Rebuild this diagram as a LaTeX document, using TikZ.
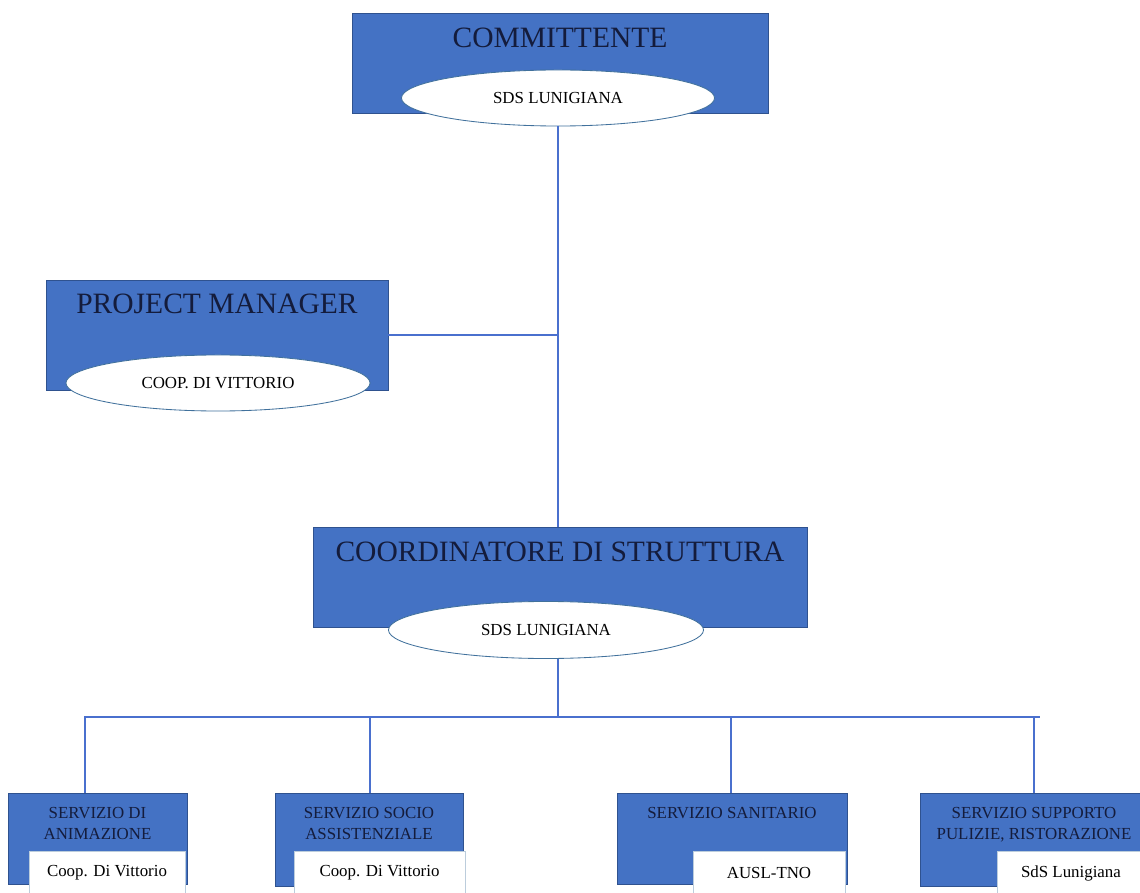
\documentclass[tikz,border=0pt]{standalone}
\usepackage{fontspec}
\setmainfont{Liberation Serif}
\usetikzlibrary{positioning, shapes.geometric}
\definecolor{boxblue}{RGB}{68,114,196}
\definecolor{boxedge}{RGB}{47,82,143}
\definecolor{navy}{RGB}{20,28,60}
\definecolor{ovaledge}{RGB}{65,113,156}
\definecolor{linkblue}{RGB}{74,112,206}

\begin{document}
\begin{tikzpicture}[x=0.025cm, y=-0.025cm,
    blue box/.style={rectangle, draw=boxedge, line width=0.6pt, fill=boxblue},
    head/.style={font=\fontsize{21}{24}\selectfont, text=navy, inner sep=0pt},
    sub head/.style={font=\fontsize{12}{15}\selectfont, text=navy, align=center, inner sep=0pt},
    oval/.style={ellipse, draw=ovaledge, line width=0.6pt, fill=white, inner sep=0pt,
        minimum height=1.4cm, font=\fontsize{12}{14}\selectfont},
    white box/.style={rectangle, draw=ovaledge!35, line width=0.4pt, fill=white,
        minimum height=1.1cm, font=\fontsize{12}{14}\selectfont},
    link/.style={draw=linkblue, line width=1.7pt}]

    \useasboundingbox (0,0) rectangle (1140,893);

    \node[blue box, minimum width=10.4cm, minimum height=2.5cm] (comm) at (560,63) {};
    \node[head, below=0.37cm of comm.north] (comm title) {COMMITTENTE};
    \node[oval, minimum width=7.825cm] (comm sds) at (558,98) {SDS LUNIGIANA};

    \node[blue box, minimum width=8.55cm, minimum height=2.75cm] (pm) at (217,335) {};
    \node[head, below=0.35cm of pm.north] (pm title) {PROJECT MANAGER};
    \node[oval, minimum width=7.6cm] (pm coop) at (218,383) {COOP. DI VITTORIO};

    \node[blue box, minimum width=12.35cm, minimum height=2.5cm] (coord) at (560,577) {};
    \node[head, below=0.37cm of coord.north] (coord title) {COORDINATORE DI STRUTTURA};
    \node[oval, minimum width=7.875cm, minimum height=1.425cm] (coord sds) at (546,630) {SDS LUNIGIANA};

    \node[blue box, minimum width=4.475cm, minimum height=2.275cm] (anim) at (97.5,838.5) {};
    \node[sub head, below=0.35cm of anim.north] (anim title) {SERVIZIO DI\\ANIMAZIONE};
    \node[white box, minimum width=3.9cm] (anim coop) at (107,873) {Coop. Di Vittorio};

    \node[blue box, minimum width=4.7cm, minimum height=2.325cm] (socio) at (369,839.5) {};
    \node[sub head, below=0.35cm of socio.north] (socio title) {SERVIZIO SOCIO\\ASSISTENZIALE};
    \node[white box, minimum width=4.275cm] (socio coop) at (379.5,873) {Coop. Di Vittorio};

    \node[blue box, minimum width=5.75cm, minimum height=2.275cm] (sanit) at (732,838.5) {};
    \node[sub head, below=0.35cm of sanit.north] (sanit title) {SERVIZIO SANITARIO};
    \node[white box, minimum width=3.8cm] (sanit ausl) at (769,873) {AUSL-TNO};

    \node[blue box, minimum width=5.9cm, minimum height=2.325cm] (supp) at (1038,839.5) {};
    \node[sub head, below=0.35cm of supp.north, xshift=-0.1cm] (supp title) {SERVIZIO SUPPORTO\\PULIZIE, RISTORAZIONE};
    \node[white box, minimum width=4cm] (supp sds) at (1077,873) {\hspace*{-0.3cm}SdS Lunigiana};

    \coordinate (bus) at (558,717);

    \draw[link] (comm sds.south) -- (comm sds.south |- coord.north);
    \draw[link] (pm.east) -- (pm.east -| comm sds.south);
    \draw[link] (bus |- coord sds.south) -- (bus);
    \draw[link] ([xshift=-0.31cm]anim.north) |- ([xshift=0.05cm]supp.north |- bus);
    \foreach \n/\s in {socio/0.02, sanit/-0.02, supp/-0.1}
        \draw[link] ([xshift=\s cm]\n.north) -- ([xshift=\s cm]\n.north |- bus);
\end{tikzpicture}
\end{document}
